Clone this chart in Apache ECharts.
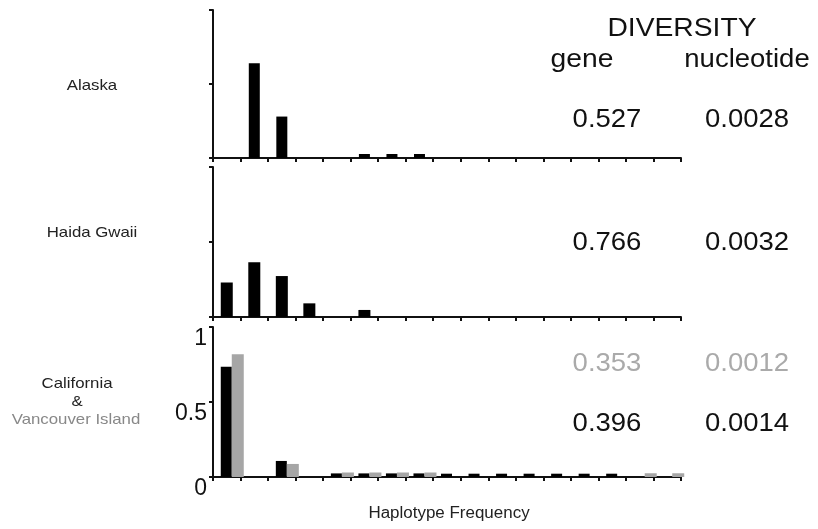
<!DOCTYPE html>
<html>
<head>
<meta charset="utf-8">
<script src="https://cdn.jsdelivr.net/npm/echarts@6/dist/echarts.min.js"></script>
<style>
  html, body { margin: 0; padding: 0; background: #fff; }
  #chart { width: 818px; height: 529px; }
</style>
</head>
<body>
<div id="chart"></div>
<script>
// Haplotype categories (17 slots along the frequency axis)
const categories = ['1', '2', '3', '4', '5', '6', '7', '8', '9', '10', '11', '12', '13', '14', '15', '16', '17'];

// Haplotype frequencies
const alaska = [0, 0.64, 0.28, 0, 0, 0.027, 0.027, 0.027, 0, 0, 0, 0, 0, 0, 0, 0, 0];
const haidaGwaii = [0.23, 0.365, 0.273, 0.091, 0, 0.047, 0, 0, 0, 0, 0, 0, 0, 0, 0, 0, 0];
const california = [0.735, 0, 0.107, 0, 0.024, 0.024, 0.024, 0.024, 0.022, 0.022, 0.022, 0.022, 0.022, 0.022, 0.022, 0, 0];
const vancouverIsland = [0.818, 0, 0.087, 0, 0.03, 0.03, 0.03, 0.03, 0, 0, 0, 0, 0, 0, 0, 0.025, 0.025];

const yTicks = ['0', '0.5', '1'];

// Diversity table
const geneDiversity = ['0.527', '0.766', '0.353', '0.396'];
const nucleotideDiversity = ['0.0028', '0.0032', '0.0012', '0.0014'];

const FONT = '"Liberation Sans", Arial, sans-serif';
const AXIS_COLOR = '#111';

const chart = echarts.init(document.getElementById('chart'), null, { renderer: 'canvas' });

// panel layouts (top, height)
const panels = [[10, 148], [167, 150], [327, 150]];

function makeXAxis(i) {
    return {
        type: 'category',
        gridIndex: i,
        data: categories,
        axisLine: { show: true, lineStyle: { color: AXIS_COLOR, width: 2 } },
        axisTick: { show: true, interval: 0, length: 4, lineStyle: { color: AXIS_COLOR, width: 2 } },
        axisLabel: { show: false },
        splitLine: { show: false }
    };
}

function makeYAxis(i, labels) {
    return {
        type: 'value',
        gridIndex: i,
        min: 0,
        max: 1,
        interval: 0.5,
        axisLine: { show: true, lineStyle: { color: AXIS_COLOR, width: 2 } },
        axisTick: { show: true, length: 4, lineStyle: { color: AXIS_COLOR, width: 2 } },
        splitLine: { show: false },
        axisLabel: {
            show: labels,
            fontFamily: FONT,
            fontSize: 23,
            color: '#111',
            margin: 6,
            verticalAlign: 'top',
            formatter: v => yTicks[Math.round(v * 2)]
        }
    };
}

// the slide text is a little stretched sideways, hence scaleX
function txt(text, x, y, size, color, shadow, sx) {
    return {
        type: 'text',
        x: x,
        y: y,
        scaleX: sx || 1,
        style: {
            text: text,
            fill: color,
            font: size + 'px ' + FONT,
            align: 'center',
            verticalAlign: 'middle',
            shadowColor: shadow ? 'rgba(0,0,0,0.35)' : 'transparent',
            shadowBlur: shadow ? 3 : 0,
            shadowOffsetX: shadow ? 1 : 0,
            shadowOffsetY: shadow ? 1 : 0
        }
    };
}

const rowY = [120, 243, 364, 424];
const rowColor = ['#111', '#111', '#aaa', '#111'];
const graphics = [
    txt('DIVERSITY', 682, 29, 25, '#111', true, 1.13),
    txt('gene', 582, 60, 25, '#111', true, 1.13),
    txt('nucleotide', 747, 60, 25, '#111', true, 1.1),
    txt('Alaska', 92, 86, 15, '#222', false, 1.12),
    txt('Haida Gwaii', 92, 233, 15, '#222', false, 1.12),
    txt('California', 77, 384, 15, '#222', false, 1.12),
    txt('&', 77, 402, 15, '#222', false, 1.12),
    txt('Vancouver Island', 76, 420, 15, '#888', false, 1.12),
    txt('Haplotype Frequency', 449, 514, 16, '#222', false, 1.06)
];
geneDiversity.forEach((v, i) => graphics.push(txt(v, 607, rowY[i], 25, rowColor[i], true, 1.1)));
nucleotideDiversity.forEach((v, i) => graphics.push(txt(v, 747, rowY[i], 25, rowColor[i], true, 1.1)));

const option = {
    animation: false,
    backgroundColor: '#fff',
    grid: panels.map(p => ({ left: 213, width: 468, top: p[0], height: p[1] })),
    xAxis: [0, 1, 2].map(makeXAxis),
    yAxis: [makeYAxis(0, false), makeYAxis(1, false), makeYAxis(2, true)],
    series: [
        {
            name: 'Alaska', type: 'bar', xAxisIndex: 0, yAxisIndex: 0,
            barWidth: 11, itemStyle: { color: '#000' }, data: alaska
        },
        {
            name: 'Haida Gwaii', type: 'bar', xAxisIndex: 1, yAxisIndex: 1,
            barWidth: 12, itemStyle: { color: '#000' }, data: haidaGwaii
        },
        // empty slot so the black bar sits in the middle of its category and the grey one to its right
        {
            name: 'spacer', type: 'bar', xAxisIndex: 2, yAxisIndex: 2,
            barWidth: 11, barGap: '0%', data: []
        },
        {
            name: 'California', type: 'bar', xAxisIndex: 2, yAxisIndex: 2,
            barWidth: 11, barGap: '0%', itemStyle: { color: '#000' }, data: california
        },
        {
            name: 'Vancouver Island', type: 'bar', xAxisIndex: 2, yAxisIndex: 2,
            barWidth: 12, barGap: '0%', clip: false, itemStyle: { color: '#a6a6a6' }, data: vancouverIsland
        }
    ],
    graphic: graphics
};
chart.setOption(option);
</script>
</body>
</html>
